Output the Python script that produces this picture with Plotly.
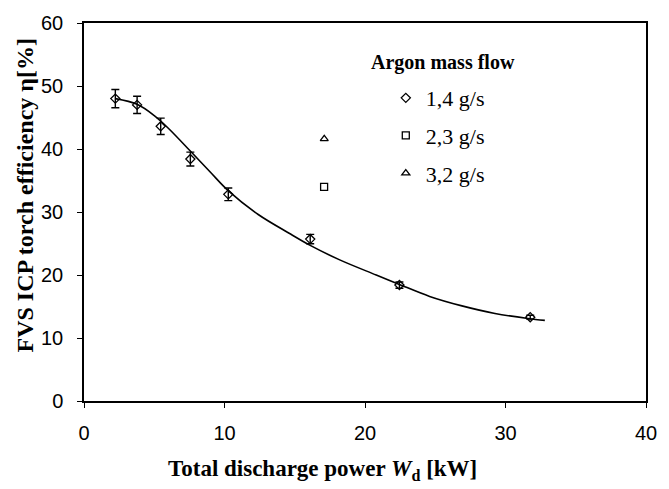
import plotly.graph_objects as go

# measured points, 1,4 g/s
power_14 = [2.23, 3.78, 5.46, 7.57, 10.27, 16.1, 22.45, 31.76]
eff_14 = [48.0, 47.0, 43.6, 38.4, 32.8, 25.7, 18.4, 13.3]
err_14 = [1.45, 1.37, 1.3, 1.1, 1.0, 0.75, 0.5, 0.3]

# single points for other flows
power_23 = [17.09]
eff_23 = [34.0]
power_32 = [17.1]
eff_32 = [41.6]

# fitted curve
curve_x = [2.23, 3.78, 5.0, 6.0, 7.6, 9.0, 10.3, 12.4, 14.7, 16.1, 18.2, 20.8,
           22.45, 24.6, 26.9, 29.25, 31.6, 32.8]
curve_y = [48.0, 47.1, 45.3, 43.3, 39.6, 36.3, 33.3, 29.6, 26.5, 24.7, 22.4, 20.0,
           18.5, 16.6, 15.1, 13.9, 13.1, 12.8]

x_ticks = [0, 10, 20, 30, 40]
y_ticks = [0, 10, 20, 30, 40, 50, 60]

SERIF = "Liberation Serif"
SANS = "Liberation Sans"

fig = go.Figure()
fig.add_trace(go.Scatter(
    x=curve_x, y=curve_y, mode="lines", line=dict(color="black", width=1.6, shape="spline"),
    showlegend=False, hoverinfo="skip"))
fig.add_trace(go.Scatter(
    x=power_14, y=eff_14, mode="markers", name="1,4 g/s", legendgroup="a",
    marker=dict(symbol="diamond-open", size=7, color="black", line=dict(width=1.3)),
    error_y=dict(type="data", array=err_14, color="black", thickness=1.4, width=4)))
fig.add_trace(go.Scatter(
    x=power_23, y=eff_23, mode="markers", name="2,3 g/s", legendgroup="b",
    marker=dict(symbol="square-open", size=7, color="black", line=dict(width=1.3))))
fig.add_trace(go.Scatter(
    x=power_32, y=eff_32, mode="markers", name="3,2 g/s", legendgroup="c",
    marker=dict(symbol="triangle-up-open", size=7, color="black", line=dict(width=1.3))))

axis_common = dict(showline=True, linecolor="black", linewidth=1.5, mirror=True,
                   ticks="outside", ticklen=5, tickcolor="black", tickwidth=1,
                   showgrid=False, zeroline=False,
                   tickfont=dict(family=SANS, size=20, color="black"))

fig.update_xaxes(range=[0, 40], tickvals=x_ticks, ticklabelstandoff=8, **axis_common)
fig.update_yaxes(range=[0, 60], tickvals=y_ticks, ticklabelstandoff=10, **axis_common)

fig.update_layout(
    width=669, height=489,
    margin=dict(l=84, r=16, t=16, b=88),
    plot_bgcolor="white", paper_bgcolor="white",
    showlegend=True,
    legend=dict(
        x=0.537, y=0.857, xanchor="left", yanchor="top",
        bgcolor="rgba(0,0,0,0)",
        font=dict(family=SERIF, size=22, color="black"),
        traceorder="grouped", tracegroupgap=6, itemwidth=30),
    annotations=[
        dict(text="<b>Argon mass flow</b>",
             xref="paper", yref="paper", x=0.638, y=0.896,
             xanchor="center", yanchor="middle", showarrow=False,
             font=dict(family=SERIF, size=20, color="black")),
        dict(text="<b>Total discharge power <i>W</i><sub>d</sub> [kW]</b>",
             xref="paper", yref="paper", x=0.4236, y=-0.182,
             xanchor="center", yanchor="middle", showarrow=False,
             font=dict(family=SERIF, size=23, color="black")),
        dict(text="<b>FVS ICP torch efficiency η[%]</b>",
             xref="paper", yref="paper", x=-0.1054, y=0.543, textangle=-90,
             xanchor="center", yanchor="middle", showarrow=False,
             font=dict(family=SERIF, size=24, color="black")),
    ],
)

fig.write_html("out.html")
